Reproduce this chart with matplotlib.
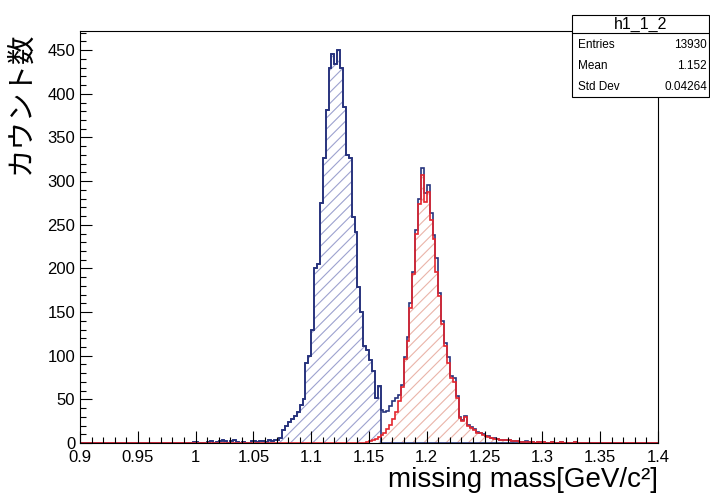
import numpy as np
import matplotlib.pyplot as plt
from matplotlib.patches import Rectangle
from matplotlib.ticker import MultipleLocator, FuncFormatter

plt.rcParams['font.family'] = ['Liberation Sans', 'Noto Sans CJK JP', 'DejaVu Sans']
plt.rcParams['hatch.linewidth'] = 0.8

# binning of the histogram: 200 bins, 0.9 - 1.4 GeV/c2
x_lo, x_hi, n_bins = 0.9, 1.4, 200
lambda_cut_bin = 104  # blue hatched part stops at 1.16

# all events (blue outline)
total_counts = (
    [0] * 20
    + [0, 0, 0, 0, 0, 0, 0, 0, 0, 0, 0, 0, 0, 0, 0, 0, 0, 0, 0, 1]
    + [1, 0, 0, 0, 1, 2, 0, 1, 2, 3, 2, 0, 2, 3, 1, 0, 1, 0, 0, 2]
    + [2, 1, 2, 2, 1, 3, 2, 4, 3, 6, 15, 20, 24, 27, 31, 35, 44, 50, 92, 100]
    + [130, 200, 205, 275, 326, 381, 430, 446, 434, 450,
       430, 385, 330, 326, 259, 242, 179, 150, 111, 107]
    + [95, 82, 52, 65, 38, 35, 37, 42, 48, 51,
       55, 66, 98, 122, 160, 196, 244, 279, 315, 286]
    + [296, 263, 238, 212, 172, 140, 115, 98, 77, 74,
       54, 30, 26, 31, 21, 18, 16, 13, 11, 10]
    + [8, 8, 6, 6, 5, 4, 4, 3, 3, 2, 2, 2, 1, 1, 2, 1, 1, 0, 1, 0]
    + [1, 0, 0, 1, 0, 0, 1, 0, 0, 0, 0, 1, 0, 0, 0, 0, 0, 0, 0, 0]
    + [0] * 20
)

# sigma selected events (red)
sigma_counts = (
    [0] * 99
    + [1]
    + [2, 4, 5, 7, 9, 12, 16, 21, 28, 36,
       48, 64, 96, 117, 155, 194, 240, 274, 307, 276]
    + [288, 256, 234, 196, 168, 136, 111, 92, 74, 70,
       52, 29, 25, 30, 20, 17, 15, 12, 11, 9]
    + [8, 7, 6, 5, 5, 4, 3, 3, 3, 2, 2, 2, 1, 1, 1, 1, 1, 0, 1, 0]
    + [1, 0, 0, 1, 0, 0, 1, 0, 0, 0, 0, 1, 0, 0, 0, 0, 0, 0, 0, 0]
    + [0] * 20
)

stats_title = 'h1_1_2'
stats_names = ['Entries', 'Mean', 'Std Dev']
stats_values = ['13930', '1.152', '0.04264']

blue_line = '#27337d'
blue_hatch = '#9da2cf'
red_line = '#e4262e'
red_hatch = '#eab4a9'

edges = np.linspace(x_lo, x_hi, n_bins + 1)
total = np.array(total_counts, dtype=float)
sigma = np.array(sigma_counts, dtype=float)
lam = np.where(np.arange(n_bins) < lambda_cut_bin, total, 0)

fig = plt.figure(figsize=(7.1, 4.96), dpi=100)
ax = fig.add_axes([80 / 710, 53 / 496, 578 / 710, 412 / 496])

# hatched fills
ax.stairs(lam, edges, fill=True, facecolor='none', edgecolor=blue_hatch,
          hatch='///', linewidth=0)
ax.stairs(sigma, edges, fill=True, facecolor='none', edgecolor=red_hatch,
          hatch='///', linewidth=0)
# outlines
ax.stairs(total, edges, color=blue_line, lw=1.2)
ax.stairs(lam, edges, color=blue_line, lw=1.2)
ax.stairs(sigma, edges, color=red_line, lw=1.2)

ax.set_xlim(x_lo, x_hi)
ax.set_ylim(0, 472)
ax.xaxis.set_major_locator(MultipleLocator(0.05))
ax.xaxis.set_minor_locator(MultipleLocator(0.01))
ax.yaxis.set_major_locator(MultipleLocator(50))
ax.yaxis.set_minor_locator(MultipleLocator(10))
ax.xaxis.set_major_formatter(FuncFormatter(lambda v, p: f'{round(v, 3):g}'))
ax.tick_params(which='both', direction='in', top=False, right=False, width=0.8)
ax.tick_params(which='major', length=8.6, labelsize=12)
ax.tick_params(axis='x', pad=5)
ax.tick_params(axis='y', pad=3.5)
ax.tick_params(which='minor', length=4.3)
for s in ax.spines.values():
    s.set_linewidth(0.8)

ax.text(-0.101, 1.0, 'カウント数', rotation=90, ha='center', va='top',
        fontsize=20.5, transform=ax.transAxes)
ax.text(1.0, -0.108, 'missing mass[GeV/c²]', ha='right', va='baseline',
        fontsize=20, transform=ax.transAxes)

# stats box
bx0, bx1 = 572 / 710, 709 / 710
by0, by1 = 1 - 97 / 496, 1 - 15 / 496
fig.add_artist(Rectangle((bx0, by0), bx1 - bx0, by1 - by0, transform=fig.transFigure,
                         facecolor='white', edgecolor='black', lw=0.8))
sep = 1 - 33 / 496
fig.add_artist(plt.Line2D([bx0, bx1], [sep, sep], transform=fig.transFigure,
                          color='black', lw=0.8))
fig.text((bx0 + bx1) / 2, 1 - 24 / 496, stats_title, ha='center', va='center', fontsize=11.5)
for i, (n, v) in enumerate(zip(stats_names, stats_values)):
    yy = 1 - (45 + 21 * i) / 496
    fig.text(578 / 710, yy, n, ha='left', va='center', fontsize=8.5)
    fig.text(707 / 710, yy, v, ha='right', va='center', fontsize=8.5)

fig.savefig('out.png', dpi=100)
